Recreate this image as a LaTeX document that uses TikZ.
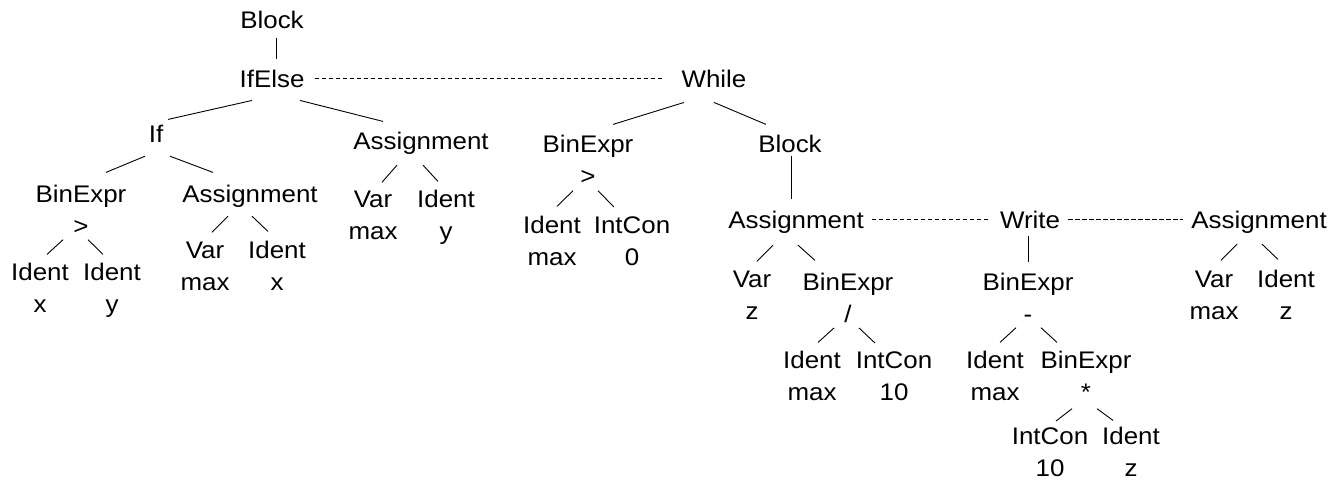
\documentclass[tikz,border=0pt]{standalone}
\usepackage{fontspec}
\setmainfont{Liberation Sans}[FakeStretch=1.08]
% parent -> child branch: #3/#4 = x offset / gap below parent, #5/#6 = x offset / gap above child
\newcommand\twig[6]{\draw[branchline] ([shift={(#3pt,-#4pt)}]#1.south) -- ([shift={(#5pt,#6pt)}]#2.north);}
\begin{document}
\begin{tikzpicture}[x=1pt,y=-1pt,
  lbl/.style={inner sep=0pt, align=center, anchor=base, font=\fontsize{24}{32.5}\selectfont},
  % two-line labels: position given by the first line's baseline
  pair/.style={lbl, yshift=-32.5pt},
  branchline/.style={line width=0.9pt, black},
  sibling/.style={line width=0.9pt, black, dash pattern=on 4.5pt off 2.5pt}]
\fill[white] (0,0) rectangle (1335,480);
\useasboundingbox (0,0) rectangle (1335,480);

% --- nodes (positioned at first-line baseline) ---
\node[lbl] (blk0)   at (272,28)  {Block};
\node[lbl] (ifelse) at (272,87)  {IfElse};
\node[lbl] (while)  at (714,87)  {While};

\node[lbl]  (if)     at (156,142) {If};
\node[lbl]  (asg1)   at (421,149) {Assignment};
\node[pair] (bin1)   at (81,202)  {BinExpr\\>};
\node[lbl]  (asg2)   at (250,202) {Assignment};
\node[pair] (id1)    at (40,280)  {Ident\\x};
\node[pair] (id2)    at (112,280) {Ident\\y};
\node[pair] (var1)   at (205,258) {Var\\max};
\node[pair] (id3)    at (277,258) {Ident\\x};
\node[pair] (var2)   at (373,207) {Var\\max};
\node[pair] (id4)    at (446,207) {Ident\\y};

\node[pair] (bin2)   at (588,152) {BinExpr\\>};
\node[lbl]  (blk1)   at (790,152) {Block};
\node[pair] (id5)    at (552,233) {Ident\\max};
\node[pair] (ic1)    at (632,233) {IntCon\\0};

\node[lbl]  (asg3)   at (796,228) {Assignment};
\node[lbl]  (write)  at (1030,228) {Write};
\node[lbl]  (asg4)   at (1259,228) {Assignment};

\node[pair] (var3)   at (752,287) {Var\\z};
\node[pair] (bin3)   at (848,290) {BinExpr\\/};
\node[pair] (id6)    at (812,368) {Ident\\max};
\node[pair] (ic2)    at (894,368) {IntCon\\10};

\node[pair] (bin4)   at (1028,290) {BinExpr\\-};
\node[pair] (id7)    at (995,368)  {Ident\\max};
\node[pair] (bin5)   at (1086,368) {BinExpr\\*};
\node[pair] (ic3)    at (1050,444) {IntCon\\10};
\node[pair] (id8)    at (1131,444) {Ident\\z};

\node[pair] (var4)   at (1214,287) {Var\\max};
\node[pair] (id9)    at (1286,287) {Ident\\z};

% --- tree branches ---
\twig{blk0}{ifelse}{4}{10}{4}{10}
\twig{ifelse}{if}{-20}{13}{12}{5}
\twig{ifelse}{asg1}{28}{13}{-38}{10}
\twig{if}{bin1}{-11}{14}{25}{12}
\twig{if}{asg2}{14}{14}{-37}{12}
\twig{bin1}{id1}{-18}{5}{7}{8}
\twig{bin1}{id2}{7}{5}{-9}{8}
\twig{asg2}{var1}{-22}{9}{7}{9}
\twig{asg2}{id3}{2}{9}{-9}{9}
\twig{asg1}{var2}{-24}{11}{9}{8}
\twig{asg1}{id4}{2}{11}{-8}{8}

\twig{while}{bin2}{-30}{15}{25}{10}
\twig{while}{blk1}{0}{15}{-24}{10}
\twig{bin2}{id5}{-15}{6}{5}{9}
\twig{bin2}{ic1}{10}{6}{-18}{9}
\twig{blk1}{asg3}{1}{4}{-5}{11}
\twig{asg3}{var3}{-23}{12}{5}{9}
\twig{asg3}{bin3}{2}{12}{-33}{12}
\twig{bin3}{id6}{-14}{5}{6}{8}
\twig{bin3}{ic2}{11}{5}{-19}{8}

\twig{write}{bin4}{-2}{8}{0}{10}
\twig{bin4}{id7}{-12}{5}{5}{8}
\twig{bin4}{bin5}{13}{5}{-29}{8}
\twig{bin5}{ic3}{-14}{8}{6}{6}
\twig{bin5}{id8}{11}{8}{-18}{6}
\twig{asg4}{var4}{-22}{11}{7}{10}
\twig{asg4}{id9}{3}{11}{-8}{10}

% --- sibling links ---
\draw[sibling] ([shift={(10pt,9pt)}]ifelse.base east) -- ([shift={(-17pt,9pt)}]while.base west);
\draw[sibling] ([shift={(8pt,9pt)}]asg3.base east) -- ([shift={(-12pt,9pt)}]write.base west);
\draw[sibling] ([shift={(8pt,9pt)}]write.base east) -- ([shift={(-8pt,9pt)}]asg4.base west);
\end{tikzpicture}
\end{document}
